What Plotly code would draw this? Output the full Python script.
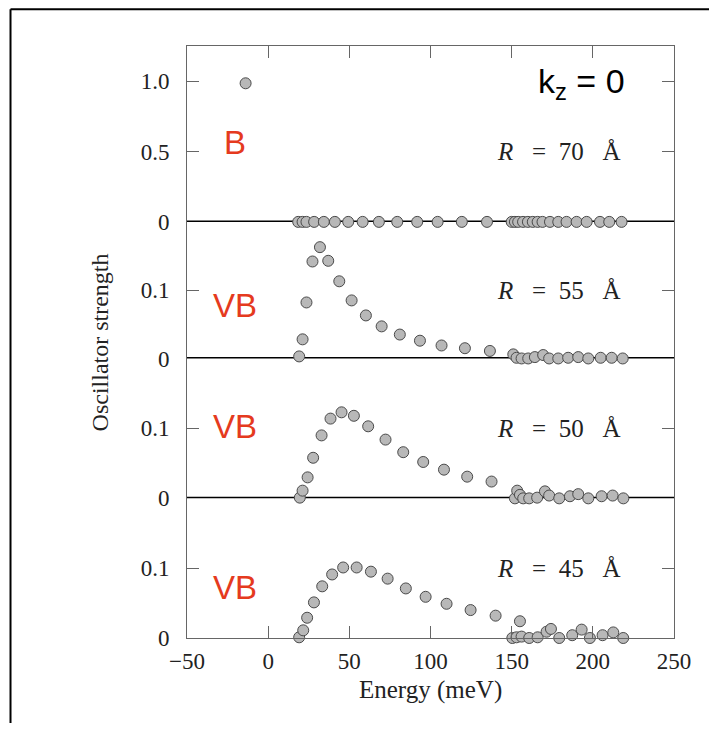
import plotly.graph_objects as go

# ---------------- data ----------------
x_range = [-50, 250]
x_ticks = [-50, 0, 50, 100, 150, 200, 250]

# R = 70 A  (one bound state B, the rest zero strength)
r70_E = [-13.9, 18.5, 21.2, 23.6, 28.3, 34.3, 41.1, 49.3, 58.2, 68.2, 79.5, 91.8, 104.4,
         119.3, 134.8, 150.0, 152.0, 154.0, 157.0, 160.0, 163.0, 166.0, 169.0, 173.6,
         178.7, 183.8, 190.0, 196.2, 204.4, 210.1, 217.7]
r70_f = [0.985] + [0.0] * 30

# R = 55 A
r55_E = [19.1, 21.2, 23.6, 27.3, 31.9, 37.0, 43.8, 51.4, 60.2, 69.9, 81.1, 93.5, 106.8,
         121.2, 136.6, 151.0, 153.0, 156.1, 160.2, 164.3, 169.4, 173.1, 178.7, 184.8,
         191.0, 197.2, 204.8, 211.6, 218.4]
r55_f = [0.003, 0.028, 0.082, 0.142, 0.163, 0.143, 0.113, 0.085, 0.063, 0.047, 0.035,
         0.026, 0.019, 0.015, 0.011, 0.006, 0.001, 0.0, 0.0, 0.002, 0.005, 0.0, 0.0,
         0.001, 0.002, 0.0, 0.001, 0.001, 0.0]

# R = 50 A
r50_E = [19.5, 21.2, 24.3, 27.7, 32.9, 38.4, 45.2, 52.8, 61.6, 72.3, 83.2, 95.5, 108.3,
         122.6, 137.6, 152.0, 153.4, 155.1, 157.1, 160.8, 165.7, 170.5, 173.1, 179.3,
         185.9, 191.0, 197.2, 205.4, 212.2, 218.8]
r50_f = [0.001, 0.011, 0.030, 0.058, 0.090, 0.114, 0.123, 0.118, 0.103, 0.084, 0.066,
         0.052, 0.041, 0.031, 0.024, 0.0, 0.011, 0.005, 0.0, 0.0, 0.001, 0.010, 0.004,
         0.0, 0.003, 0.006, 0.0, 0.003, 0.004, 0.0]

# R = 45 A
r45_E = [19.1, 21.6, 24.0, 28.2, 33.3, 39.4, 46.2, 54.5, 63.3, 73.6, 84.8, 97.0, 109.9,
         124.7, 140.1, 155.1, 150.4, 153.0, 156.1, 160.8, 166.0, 171.5, 174.2, 179.3,
         187.3, 193.1, 198.2, 206.0, 212.6, 218.7]
r45_f = [0.001, 0.011, 0.029, 0.051, 0.074, 0.091, 0.101, 0.101, 0.095, 0.085, 0.071,
         0.059, 0.049, 0.040, 0.032, 0.024, 0.0, 0.001, 0.002, 0.0, 0.001, 0.009, 0.013,
         0.0, 0.004, 0.012, 0.0, 0.004, 0.008, 0.0]

radii = ["70", "55", "50", "45"]
state_labels = ["B", "VB", "VB", "VB"]
y_tickvals = [[0, 0.5, 1.0], [0, 0.1], [0, 0.1], [0, 0.1]]
y_ticktext = [["0", "0.5", "1.0"], ["0", "0.1"], ["0", "0.1"], ["0", "0.1"]]
y_ranges = [[0, 1.25], [0, 0.2], [0, 0.2], [0, 0.2]]

# ---------------- styling ----------------
SERIF = "Liberation Serif"
SANS = "Liberation Sans"
FRAME = "#666666"
RED = "#e53a1e"
TXT = "#222222"
NB = "\u00a0"
marker = dict(size=11, color="#b8b8b8", line=dict(color="#4a4a4a", width=1))

fig = go.Figure()
series = [(r70_E, r70_f), (r55_E, r55_f), (r50_E, r50_f), (r45_E, r45_f)]
yaxes = ["y", "y2", "y3", "y4"]
for i, (E, f) in enumerate(series):
    fig.add_trace(go.Scatter(
        x=E, y=f, mode="markers", marker=marker, cliponaxis=False,
        xaxis="x2" if i == 0 else "x", yaxis=yaxes[i], showlegend=False,
        hoverinfo="x+y"))

domains = [[0.7029, 1.0], [0.4722, 0.7029], [0.2359, 0.4722], [0.0, 0.2359]]

common_y = dict(showgrid=False, zeroline=False, showline=True, linecolor=FRAME, linewidth=1,
                mirror="ticks", ticks="inside", ticklen=12, tickcolor=FRAME, tickwidth=1,
                ticklabelstandoff=12,
                tickfont=dict(family=SERIF, size=23, color=TXT), fixedrange=True)

layout = dict(
    width=701, height=715,
    margin=dict(l=179, r=35, t=38, b=85),
    paper_bgcolor="white", plot_bgcolor="white",
    showlegend=False,
    xaxis=dict(range=x_range, tickvals=x_ticks, anchor="y4", showgrid=False, zeroline=False,
               showline=True, linecolor=FRAME, linewidth=1, ticks="inside", ticklen=12,
               tickcolor=FRAME, tickwidth=1, ticklabelstandoff=2,
               tickfont=dict(family=SERIF, size=23, color=TXT)),
    xaxis2=dict(range=x_range, tickvals=x_ticks, anchor="y", side="top", showgrid=False,
                zeroline=False, showline=True, linecolor=FRAME, linewidth=1, ticks="inside",
                ticklen=12, tickcolor=FRAME, tickwidth=1, showticklabels=False),
)
for i, ya in enumerate(yaxes):
    key = "yaxis" if i == 0 else f"yaxis{i+1}"
    d = dict(common_y)
    d.update(domain=domains[i], range=y_ranges[i], tickvals=y_tickvals[i],
             ticktext=y_ticktext[i], anchor="x2" if i == 0 else "x")
    layout[key] = d
fig.update_layout(**layout)

# thick zero lines separating panels
for ya in ["y", "y2", "y3"]:
    fig.add_shape(type="line", xref="paper", x0=0, x1=1, yref=ya, y0=0, y1=0,
                  line=dict(color="black", width=3), layer="below")

# outer partial frame (top and left)
fig.add_shape(type="line", xref="paper", yref="paper", x0=-0.3624, x1=1.1, y0=1.062, y1=1.062,
              line=dict(color="black", width=2))
fig.add_shape(type="line", xref="paper", yref="paper", x0=-0.3624, x1=-0.3624, y0=1.062, y1=-0.2,
              line=dict(color="black", width=2))

# panel annotations
r_y = [0.5, 0.1, 0.1, 0.1]
s_y = [0.565, 0.078, 0.103, 0.072]
for i, ya in enumerate(yaxes):
    xr = "x2" if i == 0 else "x"
    txt = f"<i>R</i>{NB*3}={NB*2}{radii[i]}{NB*3}Å"
    fig.add_annotation(text=txt, xref="paper", x=0.893,
                       xanchor="right", yref=ya, y=r_y[i], yanchor="middle", showarrow=False,
                       font=dict(family=SERIF, size=25, color=TXT))
    fig.add_annotation(text=state_labels[i], xref=xr, x=-20.3, xanchor="center",
                       yref=ya, y=s_y[i], yanchor="middle", showarrow=False,
                       font=dict(family=SANS, size=33, color=RED))

fig.add_annotation(text="k<sub>z</sub> = 0", xref="x2", x=165, xanchor="left",
                   yref="y", y=0.983, yanchor="middle", showarrow=False,
                   font=dict(family=SANS, size=34, color="black"))

# axis titles
fig.add_annotation(text="Energy (meV)", xref="paper", x=0.499, yref="paper", y=-0.087,
                   yanchor="middle", showarrow=False,
                   font=dict(family=SERIF, size=25, color=TXT))
fig.add_annotation(text="Oscillator strength", xref="paper", x=-0.179, xanchor="center",
                   yref="paper", y=0.499, yanchor="middle", textangle=-90, showarrow=False,
                   font=dict(family=SERIF, size=24, color=TXT))

fig.write_html("out.html")
